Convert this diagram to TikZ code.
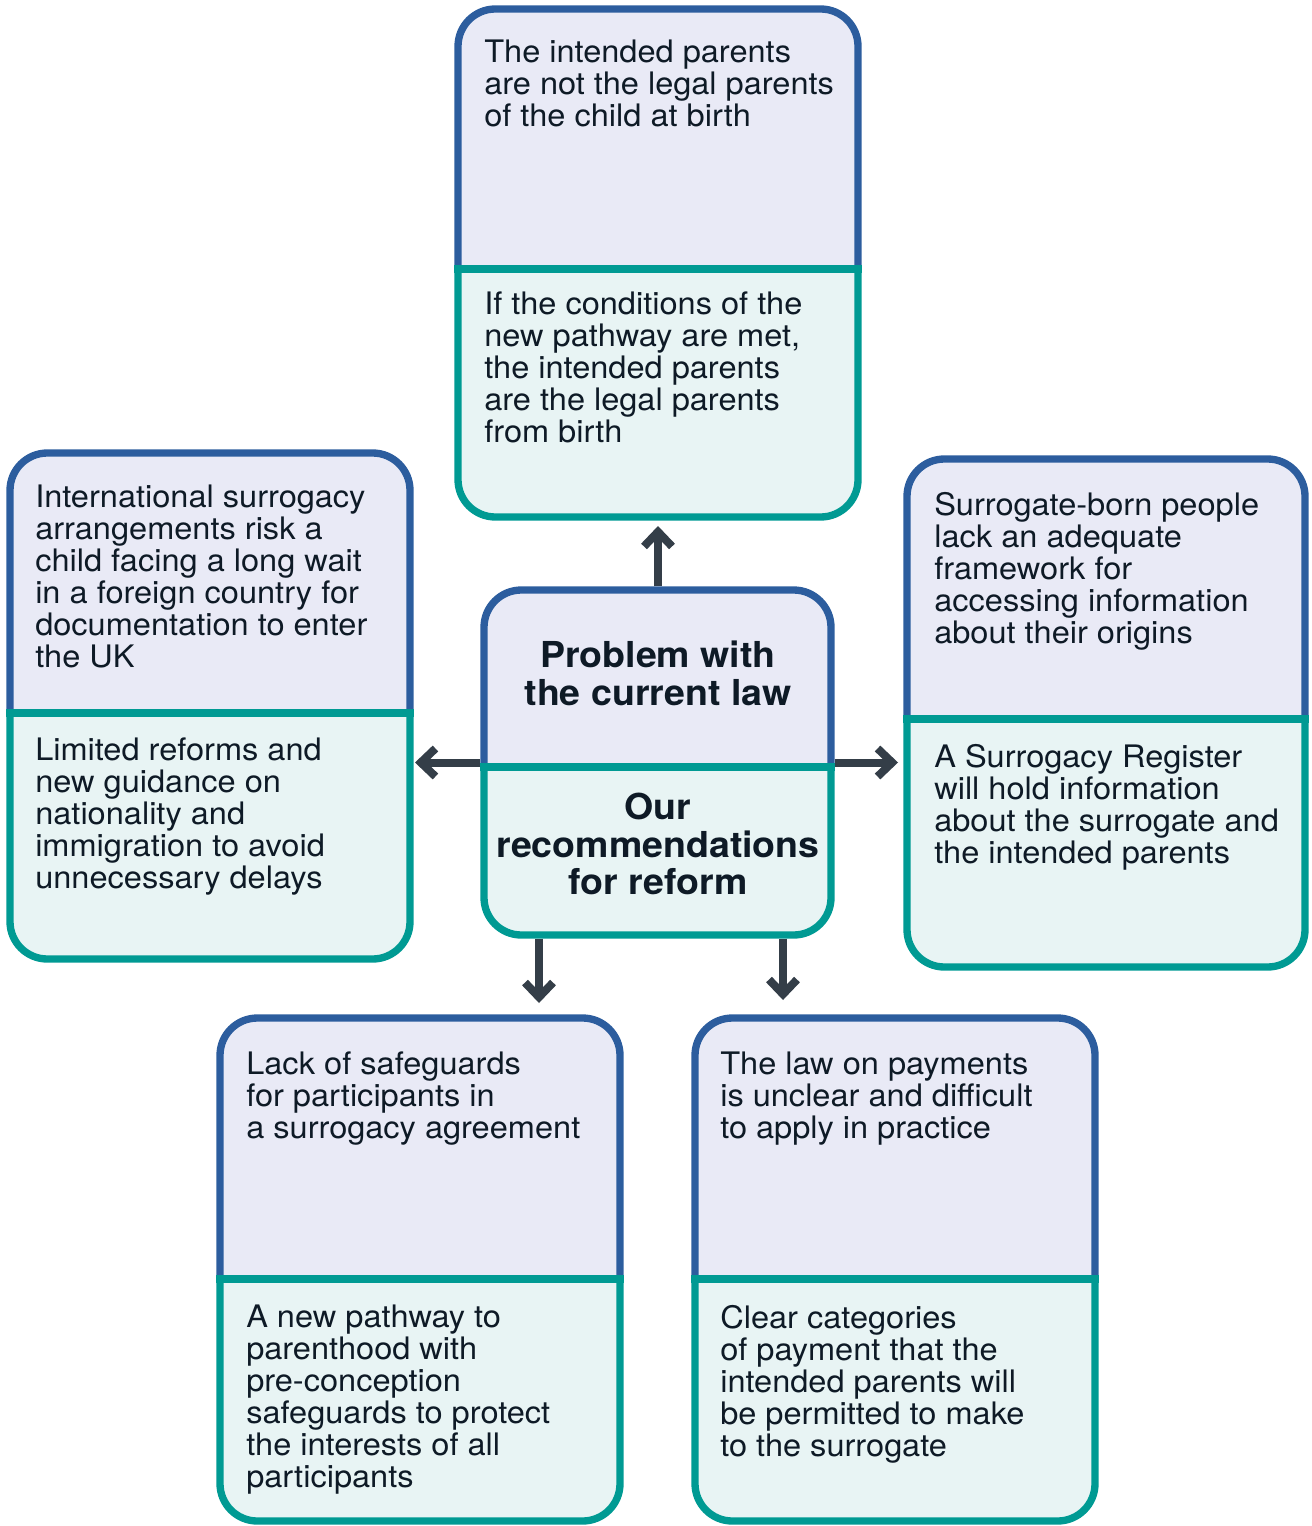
\documentclass[tikz,border=0pt]{standalone}
\usepackage{fontspec}
\setmainfont{TeX Gyre Heros}[FakeStretch=1.05]
\usetikzlibrary{arrows.meta,fit}

\definecolor{frameblue}{HTML}{2C5D9E}
\definecolor{frameteal}{HTML}{009A93}
\definecolor{filllav}{HTML}{E9EAF6}
\definecolor{fillteal}{HTML}{E8F4F4}
\definecolor{ink}{HTML}{0E1A26}
\definecolor{arrowgrey}{HTML}{343E48}

\newcommand\bodyfont{\fontsize{23.25}{24}\selectfont}
\newcommand\headfont{\fontsize{26.8}{28}\selectfont\bfseries}

% one two-part panel: problem on top, reform below
% #1 name, #2 left, #3 top, #4 split line, #5 right, #6 bottom (px)
\newcommand\surpanel[6]{%
  \node[fit={(#2,#3) (#5,#6)}, inner sep=0pt, outer sep=0pt] (#1) {};
  \begin{scope}
    \clip (#2-20,#3-20) rectangle (#5+20,#4);
    \draw[probpart] (#2,#3) rectangle (#5,#4+90);
  \end{scope}
  \begin{scope}
    \clip (#2-20,#4) rectangle (#5+20,#6+20);
    \draw[reformpart] (#2,#4-90) rectangle (#5,#6);
  \end{scope}
  \draw[divider] (#2-3.7,#4) -- (#5+3.7,#4);
}

\tikzset{
  probpart/.style={draw=frameblue, fill=filllav, line width=5.5pt, rounded corners=28pt},
  reformpart/.style={draw=frameteal, fill=fillteal, line width=5.5pt, rounded corners=28pt},
  divider/.style={draw=frameteal, line width=5.5pt},
  bodytext/.style={font=\bodyfont, text=ink, align=left, anchor=north west, inner sep=0pt},
  headtext/.style={font=\headfont, text=ink, align=center, anchor=north, inner sep=0pt},
  flow/.style={draw=arrowgrey, line width=6pt, shorten <=2.75pt,
    -{Straight Barb[length=11pt, width=21pt]}},
}

\begin{document}
\begin{tikzpicture}[x=0.75pt, y=-0.75pt]
\useasboundingbox (0,0) rectangle (1312,1526);

% panels
\surpanel{core}{484}{590}{767}{831}{935}
\surpanel{top}{458}{9}{269}{858}{517}
\surpanel{left}{10}{453}{713}{410}{959}
\surpanel{right}{907}{459}{719}{1305}{967}
\surpanel{bl}{220}{1018}{1279}{620}{1521}
\surpanel{br}{695}{1018}{1279}{1095}{1521}

% centre headings
\node[headtext] (coreA) at (658,641) {Problem with\\the current law};
\node[headtext] (coreB) at (658,793) {Our\\recommendations\\for reform};

% outer panel texts
\node[bodytext] (topA) at (484,40) {The intended parents\\are not the legal parents\\of the child at birth};
\node[bodytext] (topB) at (484,292) {If the conditions of the\\new pathway are met,\\the intended parents\\are the legal parents\\from birth};

\node[bodytext] (leftA) at (35,485) {International surrogacy\\arrangements risk a\\child facing a long wait\\in a foreign country for\\documentation to enter\\the UK};
\node[bodytext] (leftB) at (35,738) {Limited reforms and\\new guidance on\\nationality and\\immigration to avoid\\unnecessary delays};

\node[bodytext] (rightA) at (934,492) {Surrogate-born people\\lack an adequate\\framework for\\accessing information\\about their origins};
\node[bodytext] (rightB) at (934,744) {A Surrogacy Register\\will hold information\\about the surrogate and\\the intended parents};

\node[bodytext] (blA) at (246,1052) {Lack of safeguards\\for participants in\\a surrogacy agreement};
\node[bodytext] (blB) at (246,1305) {A new pathway to\\parenthood with\\pre-conception\\safeguards to protect\\the interests of all\\participants};

\node[bodytext] (brA) at (720,1052) {The law on payments\\is unclear and difficult\\to apply in practice};
\node[bodytext] (brB) at (720,1305) {Clear categories\\of payment that the\\intended parents will\\be permitted to make\\to the surrogate};

% connectors from the centre panel
\coordinate (d1) at (539,935);
\coordinate (d2) at (783,935);
\draw[flow, shorten >=6.75pt] (top.south |- core.north) -- (top.south);
\draw[flow, shorten >=3.75pt] (core.west) -- (left.east |- core.west);
\draw[flow, shorten >=6.75pt] (core.east) -- (right.west |- core.east);
\draw[flow, shorten >=11.25pt] (d1) -- (d1 |- bl.north);
\draw[flow, shorten >=13.5pt] (d2) -- (d2 |- br.north);
\end{tikzpicture}
\end{document}
